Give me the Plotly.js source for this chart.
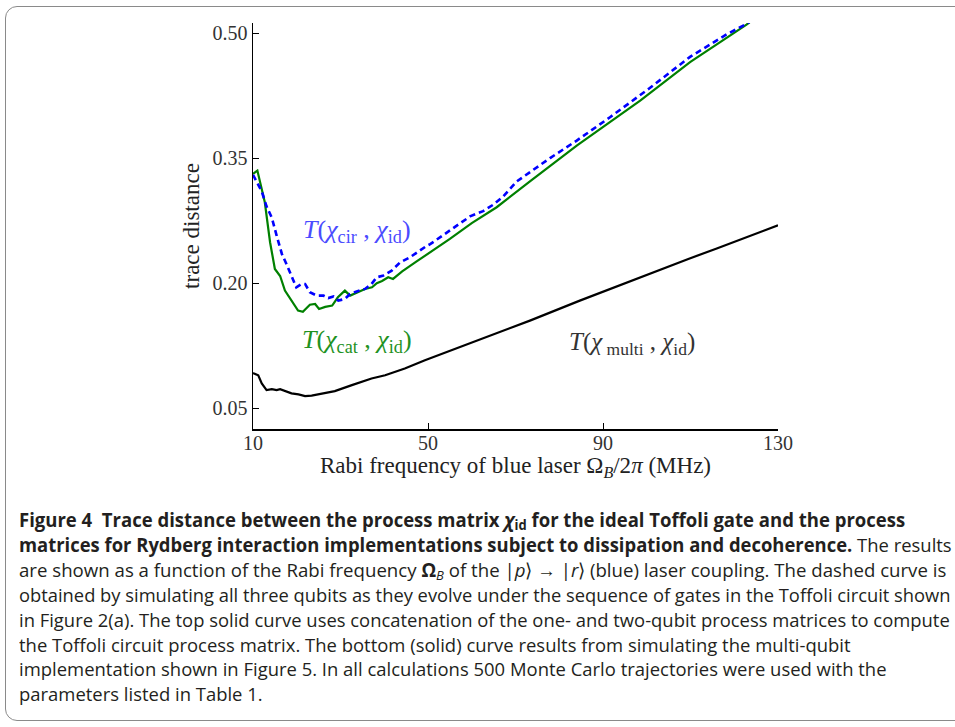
<!DOCTYPE html>
<html>
<head>
<meta charset="utf-8">
<script src="https://cdn.plot.ly/plotly-3.0.1.min.js"></script>
<style>
  html, body { margin:0; padding:0; width:955px; height:727px; overflow:hidden; background:#fff; }
  #frame { position:absolute; left:5px; top:6px; width:1000px; height:713px; border:1.5px solid #8a8a8a; border-radius:12px; }
  #plot { position:absolute; left:0; top:0; width:955px; height:490px; }
  .cap { position:absolute; left:19px; white-space:nowrap; font-family:"Open Sans","Noto Sans",sans-serif; font-size:19px; line-height:24px; color:#231f20; transform-origin:0 50%; }
  .cap sub { font-size:70%; line-height:0; vertical-align:-0.25em; }
</style>
</head>
<body>
<div id="frame"></div>
<div id="plot"></div>
<div id="caption"></div>
<script>
// ---- data ----
const catX = [10, 11.0, 12.7, 13.9, 15.0, 16.2, 17.3, 18.9, 20.3, 21.4, 23.0, 24.2, 25.1, 26.5, 28.1, 29.4, 31.0, 32.2, 34.0, 35.6, 37.2, 38.3, 39.5, 40.9, 42.0, 44.1, 47.4, 50.5, 55.0, 60.0, 65.7, 73.3, 84.0, 98.5, 109.9, 122.8, 124.5];
const catY = [0.331, 0.335, 0.297, 0.249, 0.217, 0.2085, 0.191, 0.179, 0.167, 0.1655, 0.174, 0.175, 0.169, 0.1715, 0.173, 0.183, 0.191, 0.185, 0.189, 0.193, 0.195, 0.200, 0.2025, 0.207, 0.205, 0.214, 0.226, 0.237, 0.253, 0.272, 0.291, 0.322, 0.365, 0.419, 0.465, 0.510, 0.517];

const cirX = [10, 12.0, 13.1, 14.3, 15.4, 16.6, 17.8, 18.8, 19.9, 21.1, 21.9, 23.0, 24.6, 26.1, 27.2, 28.4, 29.5, 31.0, 32.2, 33.7, 35.6, 37.1, 38.3, 39.8, 41.7, 43.6, 45.9, 49.7, 50.5, 54.3, 57.0, 59.6, 62.6, 64.9, 67.2, 70.3, 77.9, 84.0, 91.6, 100.7, 109.9, 118.3, 122.8, 124.5];
const cirY = [0.330, 0.310, 0.292, 0.2785, 0.257, 0.235, 0.221, 0.209, 0.195, 0.199, 0.199, 0.189, 0.185, 0.185, 0.182, 0.184, 0.179, 0.181, 0.187, 0.190, 0.193, 0.199, 0.207, 0.209, 0.215, 0.2248, 0.231, 0.2446, 0.2467, 0.2606, 0.270, 0.280, 0.2864, 0.294, 0.304, 0.322, 0.350, 0.371, 0.399, 0.434, 0.4714, 0.4985, 0.511, 0.517];

const multiX = [10, 11.2, 12.0, 13.1, 14.3, 15.4, 16.2, 17.3, 18.8, 20.4, 21.9, 23.4, 25.7, 28.7, 32.6, 37.1, 40.2, 44.7, 49.3, 53.9, 60.4, 66.0, 73.3, 84.7, 91.6, 102.3, 109.5, 116.0, 130];
const multiY = [0.092, 0.0895, 0.0796, 0.0716, 0.0728, 0.0716, 0.0728, 0.0704, 0.0677, 0.0665, 0.0644, 0.065, 0.0677, 0.0704, 0.0776, 0.0856, 0.0895, 0.0975, 0.1074, 0.1166, 0.130, 0.141, 0.155, 0.179, 0.193, 0.2148, 0.229, 0.2415, 0.2693];

const xTicks = [10, 50, 90, 130];
const yTicks = [0.05, 0.20, 0.35, 0.50];
const yTickText = ["0.05", "0.20", "0.35", "0.50"];

const serif = "Liberation Serif, Times New Roman, serif";

const traces = [
  { x: multiX, y: multiY, type: "scatter", mode: "lines", line: { color: "#000000", width: 2.2 }, hoverinfo: "skip" },
  { x: catX, y: catY, type: "scatter", mode: "lines", line: { color: "#008000", width: 2.2 }, hoverinfo: "skip" },
  { x: cirX, y: cirY, type: "scatter", mode: "lines", line: { color: "#0000ff", width: 2.6, dash: "6px,4px" }, hoverinfo: "skip" }
];

const layout = {
  width: 955, height: 490,
  margin: { l: 253, r: 177, t: 23, b: 61 },
  paper_bgcolor: "rgba(0,0,0,0)", plot_bgcolor: "rgba(0,0,0,0)",
  showlegend: false,
  font: { family: serif, size: 20, color: "#222" },
  xaxis: {
    range: [10, 130], tickvals: xTicks, ticktext: xTicks.map(String),
    showgrid: false, zeroline: false, showline: true, linecolor: "#000", linewidth: 1.5,
    ticks: "inside", ticklen: 6, tickcolor: "#000", tickwidth: 1,
    ticklabelstandoff: -5,
    tickfont: { family: serif, size: 20, color: "#333" },
    title: { text: "Rabi frequency of blue laser Ω<sub><i>B</i></sub>/2<i>π</i> (MHz)", font: { family: serif, size: 23, color: "#222" }, standoff: 0 }
  },
  yaxis: {
    range: [0.025, 0.512], tickvals: yTicks, ticktext: yTickText,
    showgrid: false, zeroline: false, showline: true, linecolor: "#000", linewidth: 1.5,
    ticks: "inside", ticklen: 6, tickcolor: "#000", tickwidth: 1,
    tickfont: { family: serif, size: 20, color: "#333" },
    title: { text: "trace distance", font: { family: serif, size: 23, color: "#222" }, standoff: 6 }
  },
  annotations: [
    { x: 33.8, y: 0.262, xref: "x", yref: "y", showarrow: false,
      text: "<i>T</i>(<i>χ</i><sub>cir</sub> , <i>χ</i><sub>id</sub>)", font: { family: serif, size: 26, color: "#4b4bff" } },
    { x: 33.8, y: 0.131, xref: "x", yref: "y", showarrow: false,
      text: "<i>T</i>(<i>χ</i><sub>cat</sub> , <i>χ</i><sub>id</sub>)", font: { family: serif, size: 26, color: "#1f921f" } },
    { x: 96.6, y: 0.128, xref: "x", yref: "y", showarrow: false,
      text: "<i>T</i>(<i>χ</i><sub> multi</sub> , <i>χ</i><sub>id</sub>)", font: { family: serif, size: 25, color: "#333" } }
  ]
};

Plotly.newPlot("plot", traces, layout, { staticPlot: true, displayModeBar: false });

// ---- caption ----
const capLines = [
  '<b>Figure 4&nbsp;&nbsp;Trace distance between the process matrix <i>χ</i><sub>id</sub> for the ideal Toffoli gate and the process</b>',
  '<b>matrices for Rydberg interaction implementations subject to dissipation and decoherence.</b> The results',
  'are shown as a function of the Rabi frequency <b>Ω</b><sub><i>B</i></sub> of the |<i>p</i>⟩ → |<i>r</i>⟩ (blue) laser coupling. The dashed curve is',
  'obtained by simulating all three qubits as they evolve under the sequence of gates in the Toffoli circuit shown',
  'in Figure 2(a). The top solid curve uses concatenation of the one- and two-qubit process matrices to compute',
  'the Toffoli circuit process matrix. The bottom (solid) curve results from simulating the multi-qubit',
  'implementation shown in Figure 5. In all calculations 500 Monte Carlo trajectories were used with the',
  'parameters listed in Table 1.'
];
const capCenters = [520, 545, 570, 595, 620, 645, 669, 694];
// right ends of the full lines (the last three lines are shorter, ragged)
const capFullWidths = [886, 933, 927, 932, 931];
const cap = document.getElementById("caption");
const capDivs = capLines.map((t, i) => {
  const d = document.createElement("div");
  d.className = "cap";
  d.innerHTML = t;
  d.style.top = (capCenters[i] - 12) + "px";
  cap.appendChild(d);
  return d;
});
function fitCaption() {
  const ws = capDivs.map(d => { d.style.transform = "none"; return d.scrollWidth || d.getBoundingClientRect().width; });
  let sum = 0;
  for (let i = 1; i < capFullWidths.length; i++) sum += capFullWidths[i] / ws[i];
  const avg = sum / (capFullWidths.length - 1);
  capDivs.forEach((d, i) => {
    const s = i < capFullWidths.length ? capFullWidths[i] / ws[i] : avg;
    d.style.transform = "scaleX(" + s + ")";
  });
}
fitCaption();
if (document.fonts) {
  Promise.all([
    document.fonts.load('19px "Open Sans"'),
    document.fonts.load('bold 19px "Open Sans"'),
    document.fonts.load('italic 19px "Open Sans"')
  ]).then(fitCaption, fitCaption);
  document.fonts.ready.then(fitCaption);
}
window.addEventListener("load", fitCaption);
setTimeout(fitCaption, 200);
setTimeout(fitCaption, 800);
</script>
</body>
</html>
